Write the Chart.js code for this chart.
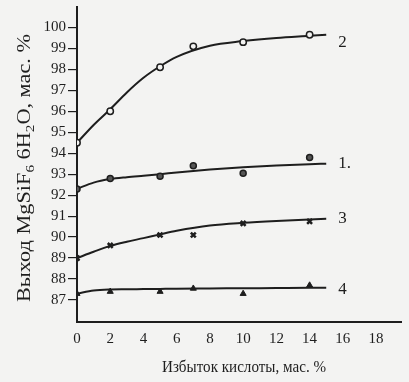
<!DOCTYPE html>
<html>
<head>
<meta charset="utf-8">
<script src="https://cdn.jsdelivr.net/npm/chart.js@4"></script>
<style>
html,body{margin:0;padding:0;background:#f3f3f2;}
#wrap{width:409px;height:382px;position:relative;}
</style>
</head>
<body>
<div id="wrap"><canvas id="c" width="409" height="382"></canvas></div>
<script>
// Measured points (x = excess acid, mass %; y = yield, mass %)
const pointX = [0, 2, 5, 7, 10, 14];
const series2 = [94.5, 96.0, 98.1, 99.1, 99.3, 99.65];
const series1 = [92.3, 92.8, 92.9, 93.4, 93.05, 93.8];
const series3 = [89.0, 89.6, 90.1, 90.1, 90.65, 90.75];
const series4 = [87.3, 87.4, 87.4, 87.55, 87.3, 87.7];

// Fitted curves
const curveX  = [0, 1, 2, 3, 4, 5, 6, 8, 10, 12, 14, 15];
const curve2  = [94.5, 95.35, 96.1, 96.9, 97.6, 98.15, 98.6, 99.13, 99.35, 99.5, 99.6, 99.65];
const curve1  = [92.3, 92.6, 92.77, 92.86, 92.93, 93.0, 93.08, 93.22, 93.33, 93.42, 93.48, 93.5];
const curve3  = [89.0, 89.3, 89.58, 89.78, 89.95, 90.13, 90.3, 90.55, 90.68, 90.77, 90.84, 90.87];
const curve4  = [87.3, 87.45, 87.5, 87.51, 87.52, 87.53, 87.54, 87.55, 87.56, 87.57, 87.58, 87.58];

const curveLabels = ["2", "1.", "3", "4"];
const xTicks = [0, 2, 4, 6, 8, 10, 12, 14, 16, 18];
const yTicks = [87, 88, 89, 90, 91, 92, 93, 94, 95, 96, 97, 98, 99, 100];
const xTitle = "Избыток кислоты, мас. %";
const yTitleParts = [["Выход MgSiF", 0], ["6", 1], [" 6H", 0], ["2", 1], ["O, мас. %", 0]];

const INK = '#1e1e1e';
const SERIF = '"Liberation Serif", "DejaVu Serif", serif';

function pts(xs, ys){ return xs.map((x,i)=>({x:x, y:ys[i]})); }

const curveDs = (ys) => ({
  type:'line', data: pts(curveX, ys), borderColor: INK, borderWidth: 2,
  pointRadius: 0, cubicInterpolationMode: 'monotone', fill:false, order: 2
});
const markDs = (ys, style, bg, r, bw) => ({
  type:'scatter', data: pts(pointX, ys), pointStyle: style, pointRadius: r,
  pointBackgroundColor: bg, pointBorderColor: INK, pointBorderWidth: bw,
  showLine:false, order: 1
});

const labelPlugin = {
  id:'labels',
  afterDatasetsDraw(chart){
    const ctx = chart.ctx;
    const xs = chart.scales.x, ys = chart.scales.y;
    const ends = [curve2, curve1, curve3, curve4];
    const dy = [8, 0, 0, 2];
    ctx.save();
    ctx.fillStyle = INK;
    ctx.font = '17px ' + SERIF;
    ctx.textBaseline = 'middle';
    ctx.textAlign = 'left';
    const lx = xs.getPixelForValue(curveX[curveX.length-1]) + 12;
    ends.forEach((c,i)=>{
      ctx.fillText(curveLabels[i], lx, ys.getPixelForValue(c[c.length-1]) + dy[i]);
    });
    // x title
    ctx.font = '16px ' + SERIF;
    ctx.textAlign = 'center';
    ctx.fillText(xTitle, 244, 368, 164);
    // y title with subscripts, stretched over the axis height
    ctx.translate(25, 168);
    ctx.rotate(-Math.PI/2);
    const big = '19px ' + SERIF, small = '13px ' + SERIF;
    let total = 0;
    yTitleParts.forEach(([t,s])=>{ ctx.font = s? small: big; total += ctx.measureText(t).width; });
    const target = 268;
    ctx.scale(target/total, 1);
    let x = -total/2;
    ctx.textAlign = 'left';
    yTitleParts.forEach(([t,s])=>{
      ctx.font = s? small: big;
      ctx.fillText(t, x, s ? 6 : 0);
      x += ctx.measureText(t).width;
    });
    ctx.restore();
  }
};

const bgPlugin = {
  id:'bg',
  beforeDraw(chart){
    const ctx = chart.ctx;
    ctx.save(); ctx.fillStyle = '#f3f3f2';
    ctx.fillRect(0,0,chart.width,chart.height); ctx.restore();
  }
};

new Chart(document.getElementById('c'), {
  data: {
    datasets: [
      curveDs(curve2), curveDs(curve1), curveDs(curve3), curveDs(curve4),
      markDs(series2, 'circle', '#f3f3f2', 3.2, 1.5),
      markDs(series1, 'circle', '#555', 3, 1.5),
      markDs(series3, 'crossRot', INK, 3.5, 2.5),
      markDs(series4, 'triangle', INK, 3.5, 1)
    ]
  },
  options: {
    responsive:false, animation:false, devicePixelRatio:1,
    layout: { padding: { left:0, right:8, top:5, bottom:0 } },
    plugins: { legend:{display:false}, tooltip:{enabled:false} },
    scales: {
      x: {
        type:'linear', min:0, max:19.5,
        afterFit(s){ s.height = 60; s.paddingLeft = 0; s.paddingRight = 0; },
        afterBuildTicks(s){ s.ticks = xTicks.map(v=>({value:v})); },
        grid: { display:true, drawOnChartArea:false, drawTicks:false, color:'#bbb' },
        border: { display:true, color: INK, width:2 },
        ticks: { color: INK, font:{ family: SERIF, size:15 }, padding:8, maxRotation:0 }
      },
      y: {
        type:'linear', min:85.95, max:101,
        afterFit(s){ s.width = 77; s.paddingTop = 0; s.paddingBottom = 0; },
        afterBuildTicks(s){ s.ticks = yTicks.map(v=>({value:v})); },
        grid: { display:true, drawOnChartArea:false, drawTicks:true, tickLength:9, color: INK, lineWidth:1.2 },
        border: { display:true, color: INK, width:2 },
        ticks: { color: INK, font:{ family: SERIF, size:15 }, padding:2 }
      }
    }
  },
  plugins: [bgPlugin, labelPlugin]
});
</script>
</body>
</html>
